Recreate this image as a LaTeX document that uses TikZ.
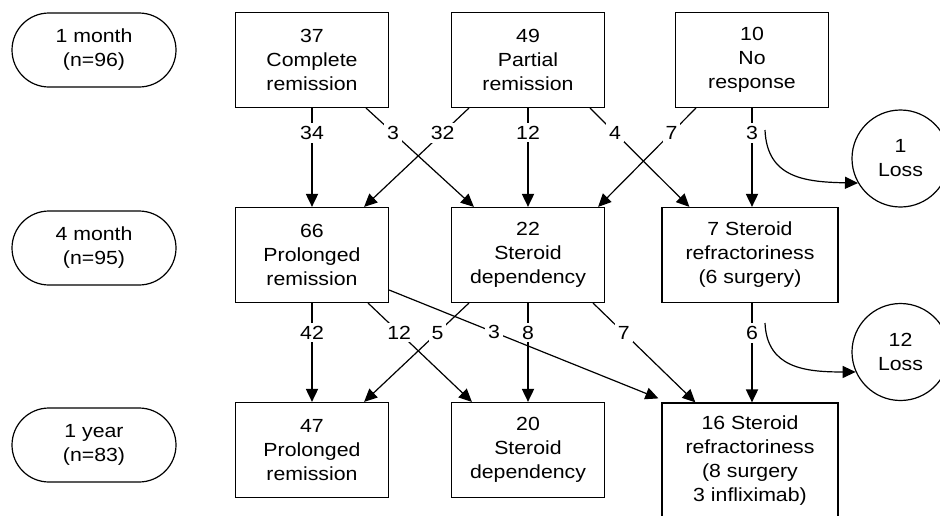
\documentclass[tikz,border=0pt]{standalone}
\usepackage{fontspec}
\setmainfont{Liberation Sans}[FakeStretch=1.12]
\usetikzlibrary{arrows.meta,calc}
\begin{document}
\begin{tikzpicture}[x=1pt,y=-1pt,
  every node/.style={font=\fontsize{19}{24}\selectfont},
  box/.style={draw,line width=1.2pt,minimum width=153pt,minimum height=95pt,align=center,inner sep=2pt},
  widebox/.style={box,minimum width=176pt},
  pill/.style={draw,line width=1.2pt,rounded corners=37pt,minimum width=164pt,minimum height=74pt,align=center},
  lossc/.style={draw,circle,line width=1.2pt,minimum size=97pt,align=center,inner sep=0pt},
  vline/.style={line width=1.8pt,-{Triangle[length=13pt,width=12pt]}},
  dline/.style={line width=1.2pt,-{Triangle[length=13pt,width=12pt]}},
  lbl/.style={fill=white,inner sep=3pt}
]
\useasboundingbox (0,0) rectangle (940,515);
\clip (0,0) rectangle (940,515);

% row labels
\node[pill] (p1) at (94,50) {1 month\\(n=96)};
\node[pill] (p2) at (94,248) {4 month\\(n=95)};
\node[pill] (p3) at (94,445) {1 year\\(n=83)};

% top row
\node[box] (b37) at (312,60) {37\\Complete\\remission};
\node[box] (b49) at (528,60) {49\\Partial\\remission};
\node[box] (b10) at (752,60) {10\\No\\response};

% middle row
\node[box] (b66) at (312,255) {66\\Prolonged\\remission};
\node[box] (b22) at (528,255) {22\\Steroid\\dependency};
\node[widebox] (b7) at (750,255) {7 Steroid\\refractoriness\\(6 surgery)};

% bottom row
\node[box] (b47) at (312,450) {47\\Prolonged\\remission};
\node[box] (b20) at (528,450) {20\\Steroid\\dependency};
\node[widebox,minimum height=116pt] (b16) at (750,461) {16 Steroid\\refractoriness\\(8 surgery\\3 infliximab)};

% loss circles
\node[lossc] (l1) at (900.5,158.5) {1\\Loss};
\node[lossc] (l2) at (900.5,352) {12\\Loss};

% top -> middle
\draw[vline] (b37.south) -- node[lbl,pos=0.25] {34} (b66.north);
\draw[dline] ([xshift=-23pt]b37.south east) -- node[lbl,pos=0.25] {3} ([xshift=23pt]b22.north west);
\draw[dline] ([xshift=18pt]b49.south west) -- node[lbl,pos=0.25] {32} ([xshift=-25pt]b66.north east);
\draw[vline] (b49.south) -- node[lbl,pos=0.25] {12} (b22.north);
\draw[dline] ([xshift=-15pt]b49.south east) -- node[lbl,pos=0.25] {4} ([xshift=28pt]b7.north west);
\draw[dline] ([xshift=21pt]b10.south west) -- node[lbl,pos=0.25] {7} ([xshift=-7pt]b22.north east);
\draw[vline] (b10.south) -- node[lbl,pos=0.25] (n3) {3} ([xshift=2pt]b7.north);

% middle -> bottom
\draw[vline] (b66.south) -- node[lbl,pos=0.3] {42} (b47.north);
\draw[dline] ([xshift=-21pt]b66.south east) -- node[lbl,pos=0.3] {12} ([xshift=21pt]b20.north west);
\draw[dline] ([xshift=18pt]b22.south west) -- node[lbl,pos=0.3] {5} ([xshift=-25pt]b47.north east);
\draw[dline] ([yshift=-35pt]b66.east) -- node[lbl,pos=0.39] {3} ([xshift=-3pt,yshift=4pt]b16.north west);
\draw[vline] (b22.south) -- node[lbl,pos=0.3] {8} (b20.north);
\draw[dline] ([xshift=-12pt]b22.south east) -- node[lbl,pos=0.3] {7} ([xshift=34pt]b16.north west);
\draw[vline] ([xshift=2pt]b7.south) -- node[lbl,pos=0.3] (n6) {6} ([xshift=2pt]b16.north);

% losses
\coordinate (c1) at (765,130);
\coordinate (c2) at (765,323);
\draw[dline] (c1) .. controls (767,178) and (805,182) .. (l1.210);
\draw[dline] (c2) .. controls (767,368) and (805,372) .. (l2.204);
\end{tikzpicture}
\end{document}
